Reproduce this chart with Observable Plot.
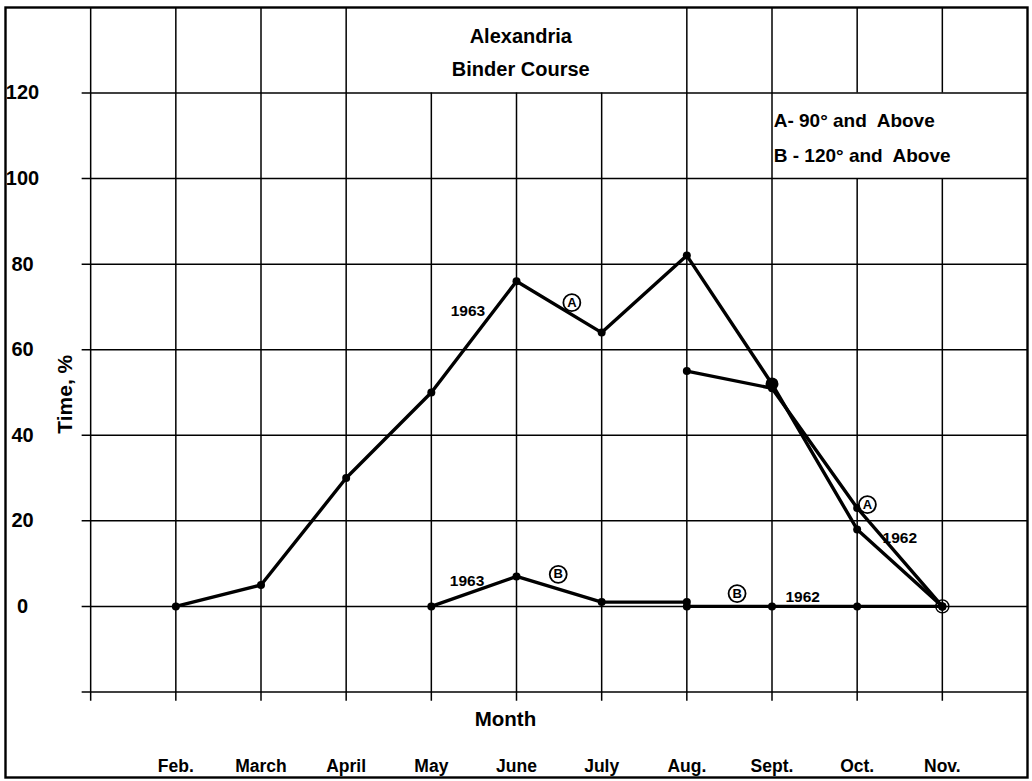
<!DOCTYPE html>
<html><head><meta charset="utf-8">
<script src="https://cdn.jsdelivr.net/npm/d3@7"></script>
<script src="https://cdn.jsdelivr.net/npm/@observablehq/plot@0.6"></script>
<style>
body{margin:0;background:#fff}
svg{display:block}
</style>
</head><body><div id="chart"></div>
<script>
// ---- data ----
const gridMonths = ["Jan.", "Feb.", "March", "April", "May", "June", "July", "Aug.", "Sept.", "Oct.", "Nov."];
const monthLabels = ["Feb.", "March", "April", "May", "June", "July", "Aug.", "Sept.", "Oct.", "Nov."];
const yGridValues = [-20, 0, 20, 40, 60, 80, 100, 120];
const yTickLabels = ["0", "20", "40", "60", "80", "100", "120"];

const a1963Months = ["Feb.", "March", "April", "May", "June", "July", "Aug.", "Sept.", "Oct.", "Nov."];
const a1963Values = [0, 5, 30, 50, 76, 64, 82, 52, 18, 0];
const a1962Months = ["Aug.", "Sept.", "Oct.", "Nov."];
const a1962Values = [55, 51, 23, 0];
const b1963Months = ["May", "June", "July", "Aug."];
const b1963Values = [0, 7, 1, 1];
const b1962Months = ["Aug.", "Sept.", "Oct.", "Nov."];
const b1962Values = [0, 0, 0, 0];

const titleLines = ["Alexandria", "Binder Course"];
const legendLines = ["A- 90\u00b0 and  Above", "B - 120\u00b0 and  Above"];

// annotations: [text, month-position, value]
const yearLabels = [["1963", 4.43, 69], ["1963", 4.42, 6], ["1962", 8.36, 2.3], ["1962", 9.5, 16]];
const circledLabels = [["A", 5.65, 71], ["B", 5.49, 7.5], ["B", 7.59, 3], ["A", 9.12, 23.8]];

// ---- build ----
const mi = m => gridMonths.indexOf(m);
const toPts = (months, vals) => months.map((m, i) => ({x: mi(m), y: vals[i]}));
const A63 = toPts(a1963Months, a1963Values);
const A62 = toPts(a1962Months, a1962Values);
const B63 = toPts(b1963Months, b1963Values);
const B62 = toPts(b1962Months, b1962Values);

// vertical grid segments (gaps for title box and legend box)
const vSegs = [];
gridMonths.forEach((m, i) => {
  if (i >= 4 && i <= 6) vSegs.push({x: i, y1: -22.2, y2: 120});
  else if (i >= 9) { vSegs.push({x: i, y1: -22.2, y2: 100}); vSegs.push({x: i, y1: 120, y2: 140}); }
  else vSegs.push({x: i, y1: -22.2, y2: 140});
});

const font = "'Liberation Sans', Arial, sans-serif";
const lineOpts = {x: "x", y: "y", stroke: "black", strokeWidth: 3.4, strokeLinejoin: "round", strokeLinecap: "round"};
const dotOpts = {x: "x", y: "y", fill: "black", r: 4};

const chart = Plot.plot({
  width: 1032, height: 781,
  marginLeft: 5, marginRight: 5, marginTop: 7, marginBottom: 4,
  style: {fontFamily: font, background: "white", color: "black"},
  x: {domain: [-1, 11], axis: null},
  y: {domain: [-40, 140], axis: null},
  marks: [
    Plot.ruleX(vSegs, {x: "x", y1: "y1", y2: "y2", stroke: "black", strokeWidth: 1.5}),
    Plot.ruleY(yGridValues, {y: d => d, x1: -0.1, x2: 11, stroke: "black", strokeWidth: 1.5}),
    Plot.frame({stroke: "black", strokeWidth: 2.4}),
    // data lines
    Plot.line(A63, lineOpts),
    Plot.line(A62, lineOpts),
    Plot.line(B63, lineOpts),
    Plot.line(B62, lineOpts),
    Plot.dot(A63, dotOpts),
    Plot.dot(A62, dotOpts),
    Plot.dot(B63, dotOpts),
    Plot.dot(B62, dotOpts),
    Plot.dot(A63.filter(d => d.x === mi("Sept.")), {x: "x", y: "y", fill: "black", r: 6.5}),
    Plot.dot(A63.filter(d => d.x === mi("Nov.")), {x: "x", y: "y", fill: "none", stroke: "black", strokeWidth: 1.4, r: 6.5}),
    // y tick labels
    Plot.text(yTickLabels, {x: -0.8, y: d => +d, text: d => d, fontSize: 20, fontWeight: 700, textAnchor: "middle"}),
    // y axis label
    Plot.text(["Time, %"], {x: -0.3, y: 49.6, text: d => d, rotate: -90, fontSize: 21, fontWeight: 700, letterSpacing: "0.5px"}),
    // month labels
    Plot.text(monthLabels, {x: d => mi(d), y: -37.3, text: d => d, fontSize: 17.5, fontWeight: 700}),
    Plot.text(["Month"], {x: 4.87, y: -26.4, text: d => d, fontSize: 20.5, fontWeight: 700}),
    // title
    Plot.text(titleLines, {x: 5.05, y: (d, i) => [133.3, 125.6][i], text: d => d, fontSize: 20, fontWeight: 700, letterSpacing: "1px"}),
    // legend
    Plot.text(legendLines, {x: 8.02, y: (d, i) => [113.4, 105.4][i], text: d => d, fontSize: 19, fontWeight: 700, textAnchor: "start", letterSpacing: "1.2px"}),
    // annotations
    Plot.text(yearLabels, {x: d => d[1], y: d => d[2], text: d => d[0], fontSize: 15.5, fontWeight: 700}),
    Plot.dot(circledLabels, {x: d => d[1], y: d => d[2], r: 8.5, fill: "white", stroke: "black", strokeWidth: 1.8}),
    Plot.text(circledLabels, {x: d => d[1], y: d => d[2], text: d => d[0], fontSize: 13, fontWeight: 700})
  ]
});
document.getElementById("chart").appendChild(chart);
</script>
</body></html>
